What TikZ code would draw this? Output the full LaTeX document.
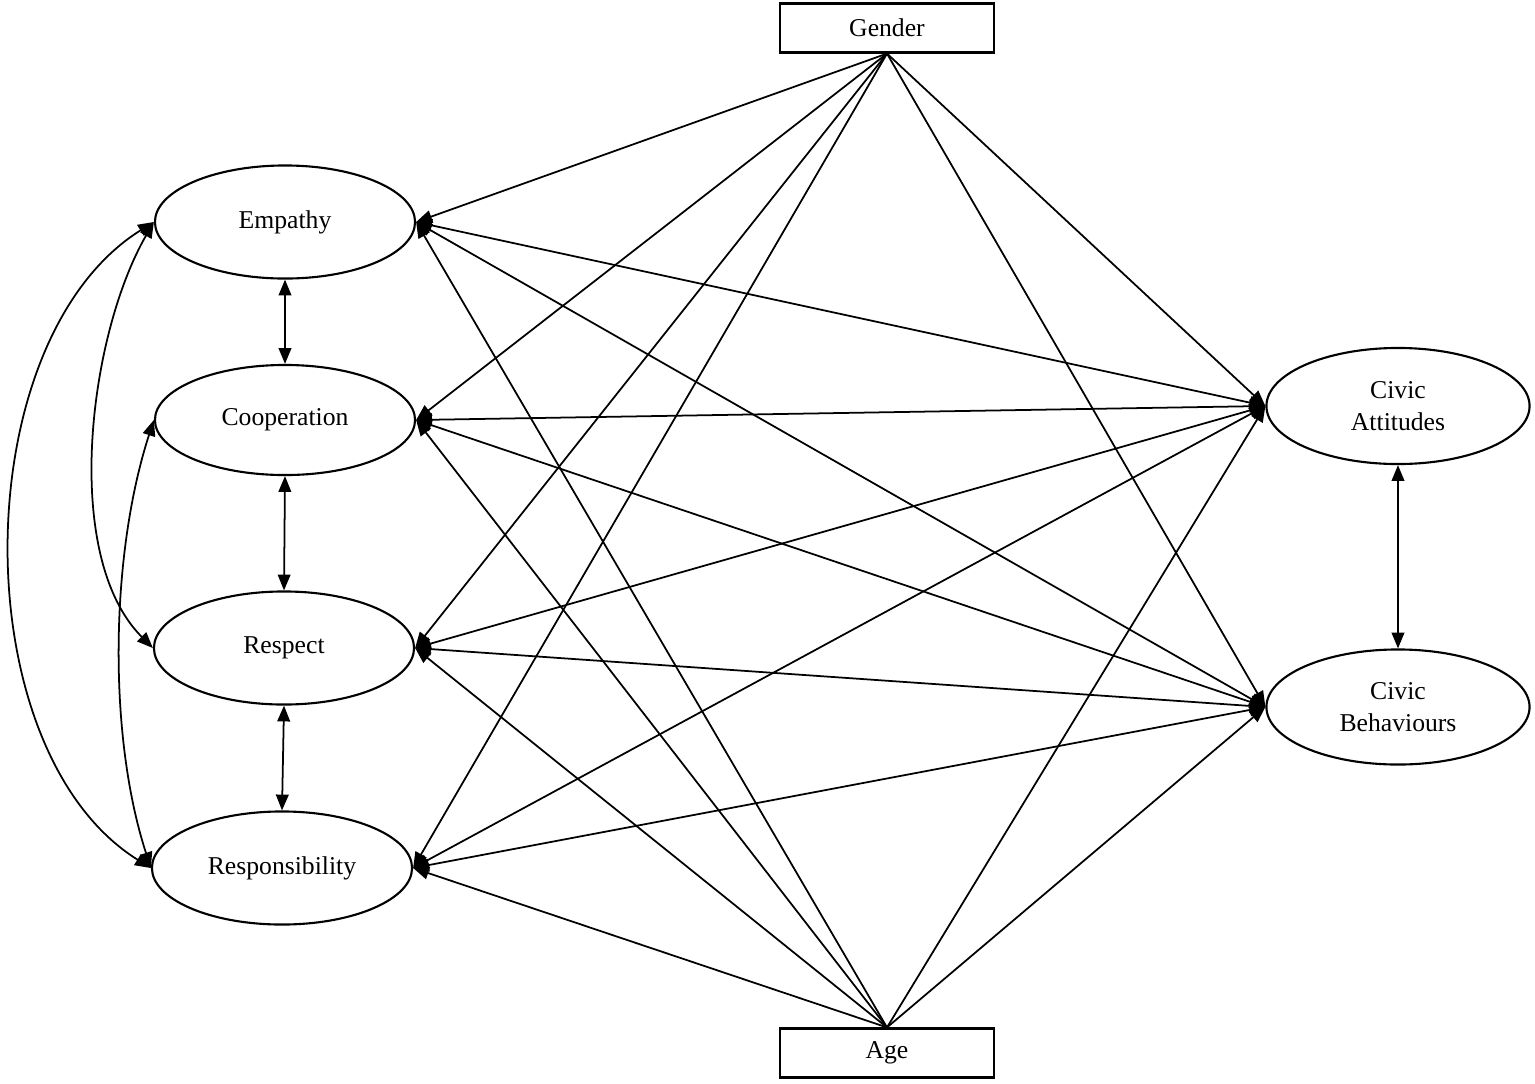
\documentclass[tikz,border=0pt]{standalone}
\usepackage{fontspec}
\setmainfont{Liberation Serif}
\usetikzlibrary{shapes.geometric,arrows.meta}
\tikzset{
  latent/.style={ellipse,draw,line width=0.6pt,minimum width=2.6cm,minimum height=1.13cm,
    inner sep=0pt,align=center,font=\fontsize{7.3}{9}\selectfont},
  observed/.style={rectangle,draw,line width=0.6pt,minimum width=2.13cm,minimum height=0.49cm,
    inner sep=0pt,font=\fontsize{7.3}{9}\selectfont},
  link/.style={line width=0.5pt,-{Triangle[length=4.5pt,width=3.6pt]}},
  both/.style={line width=0.5pt,{Triangle[length=4.5pt,width=3.6pt]}-{Triangle[length=4.5pt,width=3.6pt]}}
}
\begin{document}
\begin{tikzpicture}[x=0.01cm,y=-0.01cm]
\useasboundingbox (0,0) rectangle (1535,1084);
\node[observed] (gender) at (887,28) {Gender};
\node[observed] (age) at (887,1053) {Age};
\node[latent] (emp) at (285,222) {Empathy};
\node[latent,minimum height=1.1cm] (coop) at (285,420) {Cooperation};
\node[latent] (rspt) at (284,648) {Respect};
\node[latent] (resp) at (282,868) {Responsibility};
\node[latent,minimum width=2.63cm,minimum height=1.16cm] (att) at (1398,406) {Civic\\Attitudes};
\node[latent,minimum width=2.63cm,minimum height=1.15cm] (beh) at (1398,707) {Civic\\Behaviours};
% covariates
\foreach \n/\a in {emp/east,coop/east,rspt/east,resp/east,att/west,beh/west}
{
\draw[link] (gender.south) -- (\n.\a);
\draw[link] (age.north) -- (\n.\a);
}
% predictors and outcomes
\foreach \n in {emp,coop,rspt,resp}
{
\draw[both] (\n.east) -- (att.west);
\draw[both] (\n.east) -- (beh.west);
}
\draw[both] (emp.south) -- (coop.north);
\draw[both] (coop.south) -- (rspt.north);
\draw[both] (rspt.south) -- (resp.north);
\draw[both] (att.south) -- (beh.north);
\draw[both] (emp.west) to[out=212,in=148,looseness=0.88] (resp.west);
\draw[both] (emp.west) to[out=240,in=135,looseness=0.78] (rspt.west);
\draw[both] (coop.west) to[out=252,in=108,looseness=0.8] (resp.west);
\end{tikzpicture}
\end{document}
